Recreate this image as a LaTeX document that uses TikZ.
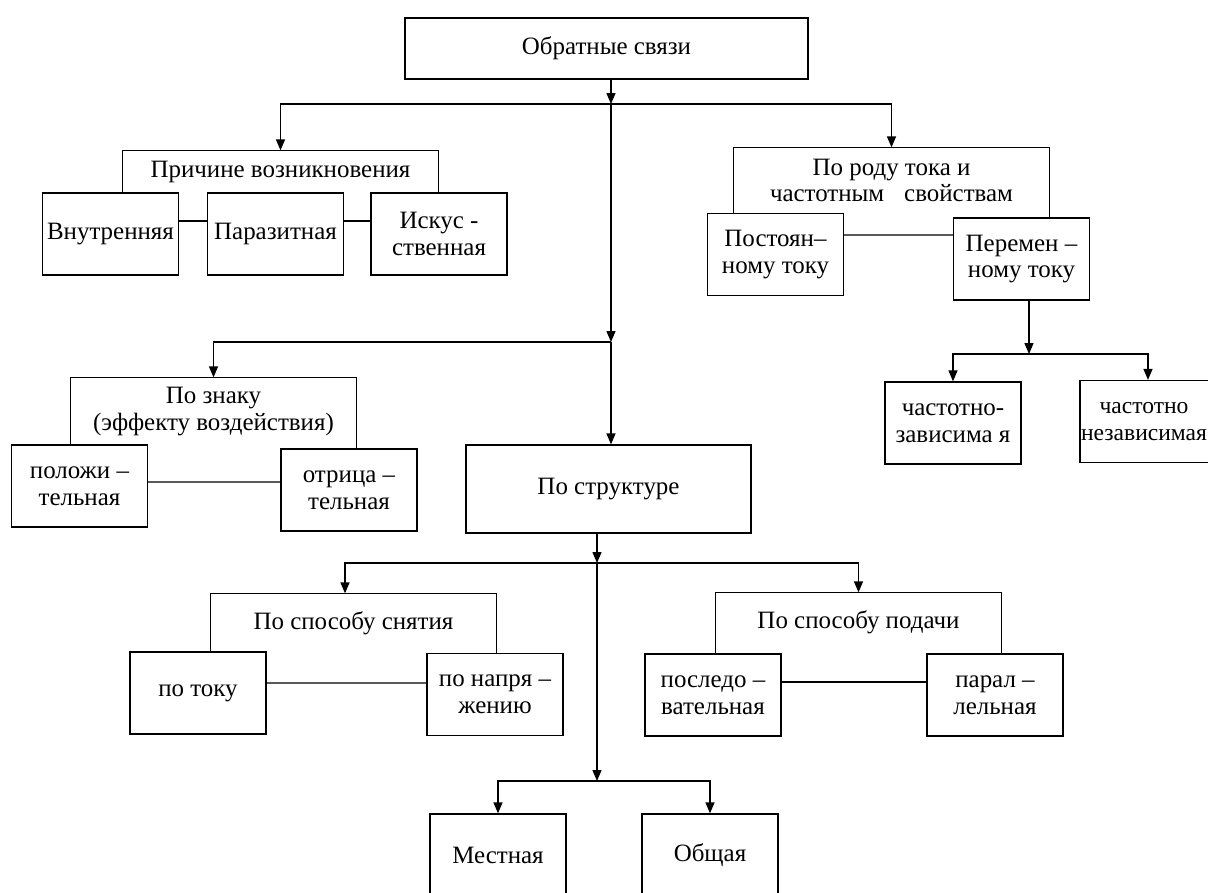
\documentclass[tikz,border=0pt]{standalone}
\usepackage{fontspec}
\setmainfont{Liberation Serif}
\usetikzlibrary{arrows.meta, positioning, calc}

\begin{document}
\begin{tikzpicture}[
        x=0.02cm, y=-0.02cm,
        >={Triangle[length=0.22cm, width=0.18cm]},
        line width=0.75pt,
        every node/.style={font=\fontsize{14.2pt}{15.3pt}\selectfont},
        box/.style={draw, align=center, inner sep=0pt, minimum width=2.72cm, minimum height=1.64cm},
        header/.style={align=center, inner sep=0pt, minimum width=5.7cm}
    ]

    \useasboundingbox (0,0) rectangle (1208,893);

    \node[box, minimum width=8.06cm, minimum height=1.22cm] (root) at (606.5,48.5) {Обратные связи};

    % by cause of origin
    \node[header, minimum width=6.3cm, minimum height=0.84cm] (cause) at (280.5,172) {\raisebox{-0.05cm}{Причине возникновения}};
    \node[box] (inner) at (110.5,234) {Внутренняя};
    \node[box] (parasitic) at (275.5,234) {Паразитная};
    \node[box] (artificial) at (439,234) {Искус -\\ственная};

    % by kind of current
    \node[header, minimum width=6.3cm, minimum height=1.3cm] (kind) at (891.5,180.5) {По роду тока и\\частотным\hspace{0.8em}свойствам};
    \node[box] (direct) at (775.5,254.5) {Постоян–\\ному току};
    \node[box] (alternating) at (1021.5,259) {Перемен –\\ному току};
    \node[box] (freqdep) at (953,423) {частотно-\\зависима я};
    \node[box, label={[align=center, xshift=-0.08cm, font=\fontsize{13.4pt}{15.3pt}\selectfont]center:{частотно\\независимая}}] (freqindep) at (1148,421.5) {};

    % by sign
    \node[header, minimum height=1.34cm] (sign) at (213.5,411.5) {По знаку\\(эффекту воздействия)};
    \node[box] (positive) at (79.5,486) {положи –\\тельная};
    \node[box] (negative) at (349,490) {отрица –\\тельная};

    \node[box, minimum width=5.7cm, minimum height=1.76cm] (structure) at (608.5,489) {По структуре};

    \node[header, minimum height=1.16cm] (pickoff) at (353.5,623) {\raisebox{0.04cm}{По способу снятия}};
    \node[box] (bycurrent) at (198,693) {по току};
    \node[box] (byvoltage) at (495,694.5) {по напря –\\жению};

    \node[header, minimum height=1.22cm] (feed) at (858.5,623.5) {\raisebox{0.14cm}{По способу подачи}};
    \node[box] (serial) at (713,695) {последо –\\вательная};
    \node[box] (parallel) at (995,695) {парал –\\лельная};

    \node[box] (local) at (498,855) {Местная};
    \node[box] (common) at (710,855) {Общая};

    % header frames
    \draw (inner.north -| cause.west) |- (cause.north east) -- (artificial.north -| cause.east);
    \draw (direct.north -| kind.west) |- (kind.north east) -- (alternating.north -| kind.east);
    \draw (positive.north -| sign.west) |- (sign.north east) -- (negative.north -| sign.east);
    \draw (bycurrent.north -| pickoff.west) |- (pickoff.north east) -- (byvoltage.north -| pickoff.east);
    \draw (serial.north -| feed.west) |- (feed.north east) -- (parallel.north -| feed.east);

    % sibling links
    \draw ([yshift=0.26cm]inner.east) -- ([yshift=0.26cm]parasitic.west);
    \draw ([yshift=0.26cm]parasitic.east) -- ([yshift=0.26cm]artificial.west);
    \draw ([yshift=0.39cm]direct.east) -- ([yshift=0.48cm]alternating.west);
    \draw ([yshift=0.08cm]positive.east) -- ([yshift=0.16cm]negative.west);
    \draw ([yshift=0.2cm]bycurrent.east) -- ([yshift=0.23cm]byvoltage.west);
    \draw ([yshift=0.26cm]serial.east) -- ([yshift=0.26cm]parallel.west);

    % trunk
    \coordinate (j1) at (611,104);
    \coordinate (j2) at (611,342);
    \coordinate (j3) at (597,563);
    \coordinate (j4) at (597,781);
    \coordinate (j5) at (1029,354);

    \draw[->] (root.south -| j1) -- (j1);
    \draw[->] (j1) -| (cause.north);
    \draw[->] (j1) -| (kind.north);
    \draw[->] (j1) -- (j2);
    \draw[->] (j2) -| (sign.north);
    \draw[->] (j2) -- (j2 |- structure.north);

    \draw[->] (j3 |- structure.south) -- (j3);
    \draw[->] (j3) -| ([xshift=-0.17cm]pickoff.north);
    \draw[->] (j3) -| (feed.north);
    \draw[->] (j3) -- (j4);
    \draw[->] (j4) -| (local.north);
    \draw[->] (j4) -| (common.north);

    \draw[->] (alternating.south -| j5) -- (j5);
    \draw[->] (j5) -| (freqdep.north);
    \draw[->] (j5) -| (freqindep.north);

\end{tikzpicture}
\end{document}
